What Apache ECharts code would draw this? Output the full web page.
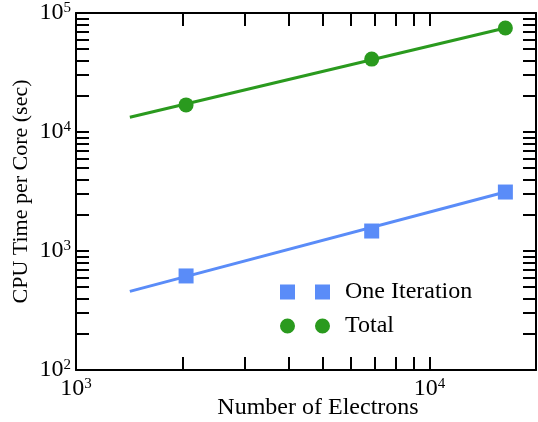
<!DOCTYPE html>
<html>
<head>
<meta charset="utf-8">
<script src="https://cdn.jsdelivr.net/npm/echarts@6/dist/echarts.min.js"></script>
<style>
html,body{margin:0;padding:0;background:#fff;}
#c{width:538px;height:422px;}
</style>
</head>
<body>
<div id="c"></div>
<script>
// ---- data ----
const electrons = [2048, 6860, 16384];
const oneIteration = [617, 1472, 3130];
const total = [16900, 41000, 74800];
const fitX = [1420, 16384];
const fitOneIteration = [458, 3130];
const fitTotal = [13300, 74800];
const xTickLabels = [1000, 10000];
const yTickLabels = [100, 1000, 10000, 100000];
const xTicks = [1000,2000,3000,4000,5000,6000,7000,8000,9000,10000,20000];
const yTicks = [100,200,300,400,500,600,700,800,900,
                1000,2000,3000,4000,5000,6000,7000,8000,9000,
                10000,20000,30000,40000,50000,60000,70000,80000,90000,100000];

const BLUE = '#5A8CF8';
const GREEN = '#2A9A1E';
const FONT = 'Liberation Serif';

const rich = {
  b: {fontFamily: FONT, fontSize: 24, color: '#000', lineHeight: 24},
  s: {fontFamily: FONT, fontSize: 15, color: '#000', lineHeight: 15, verticalAlign: 'top'}
};
function powLabel(v) {
  const e = Math.round(Math.log10(v));
  return '{b|10}{s|' + e + '}';
}
function axisBase(ticks) {
  return {
    type: 'log', logBase: 10,
    axisLine: {show: true, onZero: false, lineStyle: {color: '#000', width: 2}},
    axisTick: {show: true, inside: true, length: 13, customValues: ticks, lineStyle: {color: '#000', width: 2}},
    splitLine: {show: false},
    minorTick: {show: false},
    minorSplitLine: {show: false}
  };
}

const chart = echarts.init(document.getElementById('c'), null, {renderer: 'canvas'});
chart.setOption({
  backgroundColor: '#fff',
  animation: false,
  grid: {left: 76, right: 2, top: 13, bottom: 52, containLabel: false, outerBoundsMode: 'none'},
  xAxis: [
    Object.assign(axisBase(xTicks), {
      position: 'bottom', min: 1000, max: 20000,
      name: 'Number of Electrons', nameLocation: 'middle', nameGap: 26, nameMoveOverlap: false,
      nameTextStyle: {fontFamily: FONT, fontSize: 24, color: '#000', padding: [0, 0, 0, 24]},
      axisLabel: {show: true, customValues: xTickLabels, margin: 7, formatter: powLabel, rich: rich}
    }),
    Object.assign(axisBase(xTicks), {
      position: 'top', min: 1000, max: 20000,
      axisLabel: {show: false}
    })
  ],
  yAxis: [
    Object.assign(axisBase(yTicks), {
      position: 'left', min: 100, max: 100000,
      name: 'CPU Time per Core (sec)', nameLocation: 'middle', nameGap: 44, nameMoveOverlap: false,
      nameTextStyle: {fontFamily: FONT, fontSize: 22, color: '#000'},
      axisLabel: {show: true, customValues: yTickLabels, margin: 5, formatter: powLabel, rich: rich}
    }),
    Object.assign(axisBase(yTicks), {
      position: 'right', min: 100, max: 100000,
      axisLabel: {show: false}
    })
  ],
  legend: {
    orient: 'vertical',
    left: 280, top: 280, padding: 0,
    itemWidth: 50, itemHeight: 15, itemGap: 10,
    textStyle: {fontFamily: FONT, fontSize: 24, lineHeight: 24, color: '#000', padding: [0, 0, 0, 10]},
    data: [
      {name: 'One Iteration', icon: 'path://M0,0h15v15h-15z M35,0h15v15h-15z'},
      {name: 'Total', icon: 'path://M0,7.5a7.5,7.5 0 1,0 15,0a7.5,7.5 0 1,0 -15,0z M35,7.5a7.5,7.5 0 1,0 15,0a7.5,7.5 0 1,0 -15,0z'}
    ]
  },
  series: [
    {
      name: 'fit1', type: 'line', xAxisIndex: 0, yAxisIndex: 0,
      data: fitX.map((x, i) => [x, fitOneIteration[i]]),
      showSymbol: false, lineStyle: {color: BLUE, width: 3}, itemStyle: {color: BLUE}, z: 2
    },
    {
      name: 'fit2', type: 'line', xAxisIndex: 0, yAxisIndex: 0,
      data: fitX.map((x, i) => [x, fitTotal[i]]),
      showSymbol: false, lineStyle: {color: GREEN, width: 3}, itemStyle: {color: GREEN}, z: 2
    },
    {
      name: 'One Iteration', type: 'scatter', xAxisIndex: 0, yAxisIndex: 0,
      data: electrons.map((x, i) => [x, oneIteration[i]]),
      symbol: 'rect', symbolSize: 15, itemStyle: {color: BLUE, opacity: 1}, z: 3
    },
    {
      name: 'Total', type: 'scatter', xAxisIndex: 0, yAxisIndex: 0,
      data: electrons.map((x, i) => [x, total[i]]),
      symbol: 'circle', symbolSize: 15, itemStyle: {color: GREEN, opacity: 1}, z: 3
    }
  ]
});
</script>
</body>
</html>
